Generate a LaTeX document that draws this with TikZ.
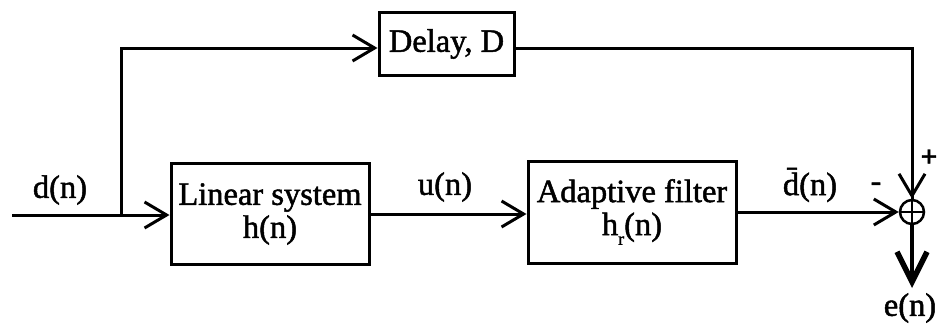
\documentclass[tikz,border=0pt]{standalone}
\usepackage{fontspec}
\setmainfont{Liberation Serif}[FakeBold=1.5]
\usetikzlibrary{arrows.meta}
\begin{document}
\begin{tikzpicture}[x=1pt,y=-1pt,
  every node/.style={font=\fontsize{32.5}{33}\selectfont},
  blk/.style={draw,line width=3pt,inner sep=0pt,align=center},
  sig/.style={line width=3pt,-{Straight Barb[length=22pt,width=26pt,line width=3pt]}},
  wire/.style={line width=3pt},
  lbl/.style={inner sep=0pt}]
\useasboundingbox (0,0) rectangle (937,324);
\node[blk,minimum width=135pt,minimum height=63pt] (delay) at (446.5,44) {Delay, D};
\node[blk,minimum width=198pt,minimum height=101pt] (lin) at (270,214) {Linear system\\h(n)};
\node[blk,minimum width=208pt,minimum height=102pt] (adf) at (632,212) {Adaptive filter\\h\raisebox{-0.3em}{\fontsize{18}{18}\selectfont r}(n)};
\node[draw,circle,line width=2.5pt,minimum size=24pt,inner sep=0pt] (sum) at (912,212) {};
\draw[line width=2.5pt] (sum.north) -- (sum.south) (sum.west) -- (sum.east);
\coordinate (in) at (12,215);
\coordinate (br) at (121,215);
\coordinate (tl) at (121,48);
\coordinate (tr) at (912,48);
\coordinate (out) at (912,288);
\draw[wire] (in) -- (br);
\draw[sig] (br) -- (lin.west |- br);
\draw[sig] (br) -- (tl) -- (delay.west |- tl);
\draw[wire] (delay.east |- tr) -- (tr) -- (sum.north);
\draw[sig] (tr) -- (sum.north);
\draw[sig] (lin.east |- 0,214) -- (adf.west |- 0,214);
\draw[sig] (adf.east |- sum) -- (sum.west);
\draw[line width=3.5pt,-{Straight Barb[length=30pt,width=30pt,line width=5.5pt]}] (sum.south) -- (out);
\node[lbl] (ld) at (60,190) {d(n)};
\node[lbl] (lu) at (445,187) {u(n)};
\node[lbl] (ldb) at (810,185) {\=d(n)};
\node[lbl] (lm) at (876,187) {-};
\node[lbl,font=\fontsize{30}{30}\selectfont\bfseries] (lp) at (929,158) {+};
\node[lbl] (le) at (910,308) {e(n)};
\end{tikzpicture}
\end{document}
